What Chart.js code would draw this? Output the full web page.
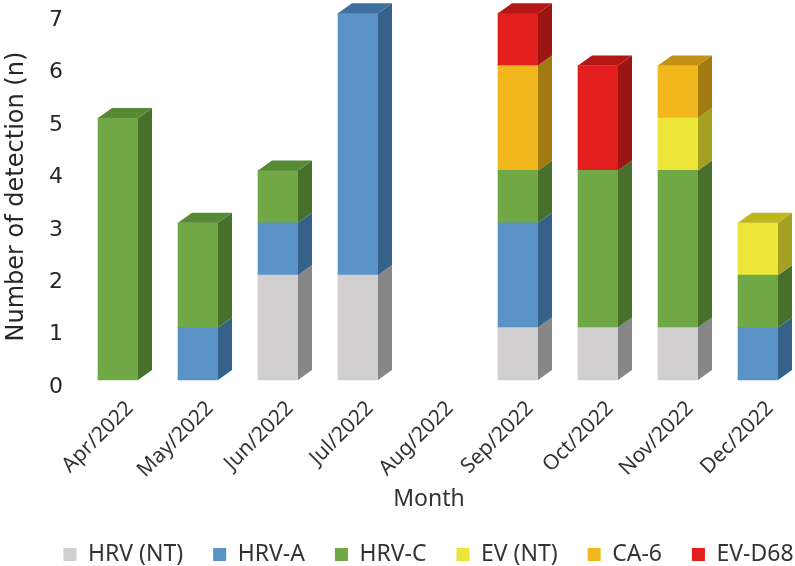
<!DOCTYPE html>
<html>
<head>
<meta charset="utf-8">
<script src="https://cdn.jsdelivr.net/npm/chart.js@4.4.1/dist/chart.umd.min.js"></script>
<style>
  html, body { margin: 0; padding: 0; background: #fff; }
  canvas { display: block; }
</style>
</head>
<body>
<canvas id="detection-chart" width="795" height="566"></canvas>
<script>
// values
var months = ['Apr/2022', 'May/2022', 'Jun/2022', 'Jul/2022', 'Aug/2022', 'Sep/2022', 'Oct/2022', 'Nov/2022', 'Dec/2022'];
var seriesNames = ['HRV (NT)', 'HRV-A', 'HRV-C', 'EV (NT)', 'CA-6', 'EV-D68'];
var hrvNT = [0, 0, 2, 2, 0, 1, 1, 1, 0];
var hrvA  = [0, 1, 1, 5, 0, 2, 0, 0, 1];
var hrvC  = [5, 2, 1, 0, 0, 1, 3, 3, 1];
var evNT  = [0, 0, 0, 0, 0, 0, 0, 1, 1];
var ca6   = [0, 0, 0, 0, 0, 2, 0, 1, 0];
var evD68 = [0, 0, 0, 0, 0, 1, 2, 0, 0];
var yMax = 7;

// colours: front face, side face, top face
var frontColors = ['#D0CECE', '#5B93C7', '#70A845', '#EDE537', '#F3B71E', '#E31E1E'];
var sideColors  = ['#878787', '#36628A', '#48702D', '#A5A021', '#A37A0E', '#9C1714'];
var topColors   = ['#A9A7A7', '#3E6F9D', '#568A34', '#BDB71C', '#C39113', '#B51717'];

var DX = 14, DY = 10;

// fake 3d: side and top faces drawn off the library's bar elements
var depthPlugin = {
  id: 'depth',
  afterDatasetsDraw: function (chart) {
    var ctx = chart.ctx;
    var tops = {};
    ctx.save();
    chart.data.datasets.forEach(function (ds, d) {
      chart.getDatasetMeta(d).data.forEach(function (bar, i) {
        var p = bar.getProps(['x', 'y', 'base', 'width'], true);
        if (!(p.base - p.y >= 0.5)) return;
        var r = p.x + p.width / 2;
        ctx.fillStyle = sideColors[d];
        ctx.beginPath();
        ctx.moveTo(r, p.base);
        ctx.lineTo(r, p.y);
        ctx.lineTo(r + DX, p.y - DY);
        ctx.lineTo(r + DX, p.base - DY);
        ctx.closePath();
        ctx.fill();
        tops[i] = { x: p.x, y: p.y, width: p.width, d: d };
      });
    });
    Object.keys(tops).forEach(function (k) {
      var t = tops[k];
      var l = t.x - t.width / 2, r = t.x + t.width / 2;
      ctx.fillStyle = topColors[t.d];
      ctx.beginPath();
      ctx.moveTo(l, t.y);
      ctx.lineTo(l + DX, t.y - DY);
      ctx.lineTo(r + DX, t.y - DY);
      ctx.lineTo(r, t.y);
      ctx.closePath();
      ctx.fill();
    });
    ctx.restore();
  }
};

// legend sits a bit right of the canvas centre in the original
var legendShift = {
  id: 'legendShift',
  afterLayout: function (chart) {
    chart.legend.left += 31;
    chart.legend.right += 31;
  }
};

var series = [hrvNT, hrvA, hrvC, evNT, ca6, evD68];
var datasets = series.map(function (vals, d) {
  return {
    label: seriesNames[d],
    // zero counts are left out so no hairline bar is drawn
    data: vals.map(function (v, i) { return { x: i, y: v === 0 ? null : v }; }),
    backgroundColor: frontColors[d],
    borderWidth: 0,
    barThickness: 40,
    clip: false
  };
});

var sans = "'Noto Sans', sans-serif";
var dejavu = "'DejaVu Sans', sans-serif";

var ctx = document.getElementById('detection-chart').getContext('2d');
var chart = new Chart(ctx, { // lgtm[js/unused-local-variable]
  type: 'bar',
  data: { datasets: datasets },
  plugins: [depthPlugin, legendShift],
  options: {
    responsive: false,
    animation: false,
    layout: { padding: { top: 13, left: 0, right: 0, bottom: 0 } },
    scales: {
      x: {
        type: 'linear',
        offset: false,
        stacked: true,
        min: -0.6875,
        max: 8.4625,
        grid: { display: false, offset: false },
        border: { display: false },
        afterFit: function (scale) {
          scale.height = 133;
          scale.paddingLeft = 0;
          scale.paddingRight = 0;
        },
        ticks: {
          stepSize: 1,
          includeBounds: false,
          autoSkip: false,
          minRotation: 45,
          maxRotation: 45,
          padding: 8,
          labelOffset: 12,
          color: '#333',
          font: { family: sans, size: 21 },
          callback: function (v) { return months[v]; }
        },
        title: {
          display: true,
          text: 'Month',
          color: '#333',
          padding: { top: 0, bottom: 0 },
          font: { family: sans, size: 23 }
        }
      },
      y: {
        stacked: true,
        min: 0,
        max: yMax,
        grid: { display: false, drawTicks: false },
        border: { display: false },
        afterFit: function (scale) { scale.width = 63; },
        ticks: {
          stepSize: 1,
          padding: 0,
          labelOffset: 7,
          color: '#262626',
          font: { family: dejavu, size: 22 }
        },
        title: {
          display: true,
          text: 'Number of detection (n)',
          color: '#262626',
          padding: { top: 2, bottom: 0 },
          font: { family: dejavu, size: 24 }
        }
      }
    },
    plugins: {
      tooltip: { enabled: false },
      legend: {
        position: 'bottom',
        maxHeight: 53,
        labels: {
          boxWidth: 13,
          boxHeight: 13,
          padding: 30,
          color: '#333',
          font: { family: sans, size: 23 }
        }
      }
    }
  }
});
</script>
</body>
</html>
